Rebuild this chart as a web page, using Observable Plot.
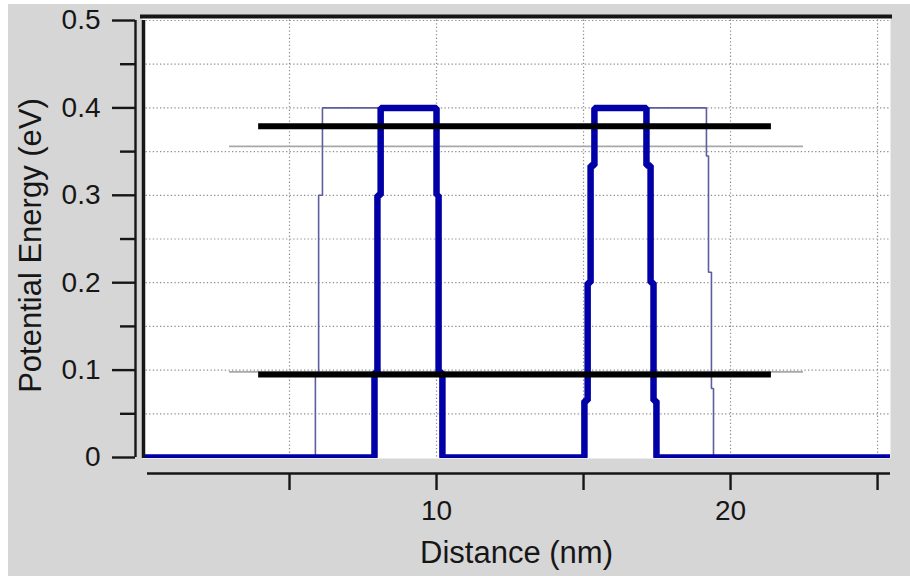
<!DOCTYPE html>
<html>
<head>
<meta charset="utf-8">
<script src="https://cdn.jsdelivr.net/npm/d3@7"></script>
<script src="https://cdn.jsdelivr.net/npm/@observablehq/plot@0.6"></script>
<style>
html, body { margin: 0; padding: 0; background: #ffffff; }
#chart { position: absolute; left: 8px; top: 4px; }
#chart svg { display: block; }
</style>
</head>
<body>
<div id="chart"></div>
<script>
// ---- scale domains & ticks ----
const xDomain = [0, 25.44];
const yDomain = [-0.00114, 0.5046];
const xTicks = [5, 10, 15, 20, 25];
const xLabeledTicks = [10, 20];
const yMajorTicks = [0, 0.1, 0.2, 0.3, 0.4, 0.5];
const yMinorTicks = [0.05, 0.15, 0.25, 0.35, 0.45];
const yGridValues = [0.05, 0.1, 0.15, 0.2, 0.25, 0.3, 0.35, 0.4, 0.45, 0.5];

// ---- potential profile, narrow barriers (thick blue) ----
const thickX = [0, 7.89, 7.89, 7.99, 7.99, 8.10, 8.10, 10.00, 10.00, 10.07, 10.07, 10.20, 10.20,
                15.03, 15.03, 15.14, 15.14, 15.24, 15.24, 15.37, 15.37, 17.14, 17.14, 17.28, 17.28,
                17.38, 17.38, 17.48, 17.48, 25.44];
const thickY = [0, 0, 0.097, 0.097, 0.30, 0.30, 0.40, 0.40, 0.30, 0.30, 0.097, 0.097, 0,
                0, 0.065, 0.065, 0.20, 0.20, 0.334, 0.334, 0.40, 0.40, 0.334, 0.334, 0.20,
                0.20, 0.065, 0.065, 0, 0];

// ---- potential profile, wide barriers (thin slate) ----
const thinX = [0, 5.88, 5.88, 5.99, 5.99, 6.12, 6.12, 10.00, 10.00, 10.07, 10.07, 10.20, 10.20,
               15.03, 15.03, 15.14, 15.14, 15.24, 15.24, 15.37, 15.37, 19.18, 19.18, 19.25, 19.25,
               19.35, 19.35, 19.42, 19.42, 25.44];
const thinY = [0, 0, 0.097, 0.097, 0.30, 0.30, 0.40, 0.40, 0.30, 0.30, 0.097, 0.097, 0,
               0, 0.065, 0.065, 0.20, 0.20, 0.334, 0.334, 0.40, 0.40, 0.345, 0.345, 0.212,
               0.212, 0.079, 0.079, 0, 0];

// ---- energy levels ----
const levelEnergies = [0.379, 0.095];   // thick black
const levelStart = 3.95, levelEnd = 21.39;
const refEnergies = [0.356, 0.098];     // thin grey
const refStart = 2.96, refEnd = 22.48;

const thick = thickX.map((x, i) => ({x, y: thickY[i]}));
const thin = thinX.map((x, i) => ({x, y: thinY[i]}));

const yFmt = d => d === 0 ? "0" : d3.format(".1f")(d);
const xFmt = d => xLabeledTicks.includes(d) ? String(d) : "";
const ink = "#161616";

const chart = Plot.plot({
  width: 902,
  height: 572,
  marginLeft: 134,
  marginRight: 20,
  marginTop: 12,
  marginBottom: 118,
  x: {domain: xDomain, label: null},
  y: {domain: yDomain, label: null},
  style: {background: "#d6d6d6", fontFamily: "'Liberation Sans', Arial, sans-serif", color: ink},
  marks: [
    Plot.frame({fill: "white", stroke: "none"}),
    Plot.gridY(yGridValues, {stroke: "#8e8e8e", strokeOpacity: 1, strokeWidth: 1.2, strokeDasharray: "1.3,2.3"}),
    Plot.gridX(xTicks, {stroke: "#8e8e8e", strokeOpacity: 1, strokeWidth: 1.2, strokeDasharray: "1.3,2.3"}),
    Plot.ruleY(refEnergies, {y: d => d, x1: refStart, x2: refEnd, stroke: "#a8a8a8", strokeWidth: 1.8}),
    Plot.line(thin, {x: "x", y: "y", stroke: "#5e5e9e", strokeWidth: 1.6, clip: true, strokeLinejoin: "miter"}),
    Plot.line(thick, {x: "x", y: "y", stroke: "#0000a6", strokeWidth: 6.5, clip: true, strokeLinejoin: "miter"}),
    Plot.ruleY(levelEnergies, {y: d => d, x1: levelStart, x2: levelEnd, stroke: "#000", strokeWidth: 6}),
    // frame edges
    Plot.ruleY([yDomain[1]], {x1: xDomain[0], x2: xDomain[1], stroke: ink, strokeWidth: 4, strokeLinecap: "square"}),
    Plot.ruleX([xDomain[0]], {y1: yDomain[0], y2: yDomain[1], stroke: ink, strokeWidth: 3.5, dx: 1, insetBottom: -4}),
    // y axis (offset)
    Plot.ruleX([xDomain[0]], {y1: yMajorTicks[0], y2: yMajorTicks[yMajorTicks.length - 1], dx: -7, stroke: ink, strokeWidth: 2.4}),
    Plot.axisY(yMajorTicks, {anchor: "left", tickSize: 23, tickPadding: 12, tickFormat: yFmt, fontSize: 28, dx: -7, strokeWidth: 2.4, label: null}),
    Plot.axisY(yMinorTicks, {anchor: "left", tickSize: 15, tickFormat: () => "", dx: -7, strokeWidth: 2.4, label: null}),
    // x axis (offset)
    Plot.ruleY([yDomain[0]], {x1: xDomain[0], x2: xDomain[1], dy: 15, insetLeft: 5, stroke: ink, strokeWidth: 2.4}),
    Plot.axisX(xTicks, {anchor: "bottom", tickSize: 17, tickPadding: 10, tickFormat: xFmt, fontSize: 28, dy: 15, strokeWidth: 2.4, label: null}),
    // titles
    Plot.text(["Distance (nm)"], {frameAnchor: "bottom", dy: 95, fontSize: 31, lineAnchor: "middle", textAnchor: "middle", fill: ink}),
    Plot.text(["Potential Energy (eV)"], {frameAnchor: "left", rotate: -90, dx: -111, dy: 8, fontSize: 31, lineAnchor: "middle", textAnchor: "middle", fill: ink})
  ]
});
document.getElementById("chart").appendChild(chart);
</script>
</body>
</html>
